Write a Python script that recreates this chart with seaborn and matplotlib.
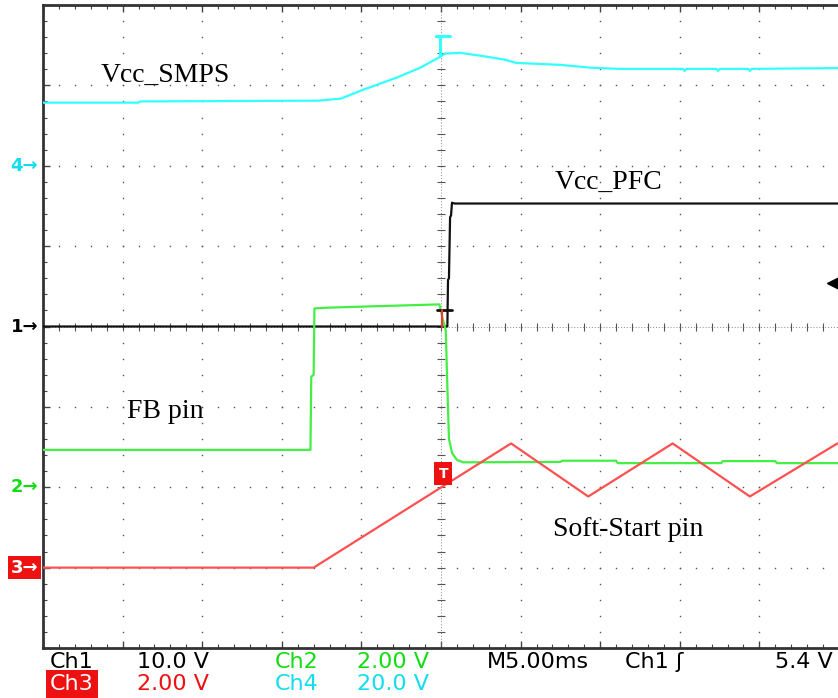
import numpy as np
import pandas as pd
import matplotlib
matplotlib.use("Agg")
import matplotlib.pyplot as plt
import seaborn as sns

# time axis in ms (5 ms/div, trigger at 0), values in volts
ch1_t = [-25, 0.40, 0.44, 0.50, 0.57, 0.63, 0.69, 0.85, 25]
ch1_v = [0, 0, 5.8, 6.0, 13.6, 13.8, 15.4, 15.3, 15.3]

ch2_t = [-25, -8.2, -8.15, -8.0, -7.95, -7.0, -4.5, -0.1, 0.1, 0.3, 0.4, 0.5,
         0.7, 1.0, 1.4, 7.5, 7.6, 11.0, 11.1, 17.6, 17.7, 21.0, 21.1, 25]
ch2_v = [0.93, 0.93, 2.75, 2.8, 4.45, 4.47, 4.5, 4.55, 4.2, 3.9, 2.5, 1.2,
         0.85, 0.68, 0.62, 0.63, 0.66, 0.66, 0.6, 0.6, 0.65, 0.65, 0.6, 0.6]

ch3_t = [-25, -8.0, 4.4, 9.25, 14.55, 19.4, 24.9]
ch3_v = [0, 0, 3.09, 1.77, 3.09, 1.77, 3.09]

ch4_t = [-25, -19.0, -18.9, -7.7, -6.3, -4.9, -2.8, -1.3, -0.06, 0.25, 1.2, 2.45,
         4.0, 4.7, 7.5, 9.4, 11.2, 15.2, 15.3, 15.4, 17.3, 17.4, 17.5, 19.3,
         19.4, 19.5, 25]
ch4_v = [15.7, 15.7, 16.0, 16.2, 16.7, 18.9, 21.9, 24.4, 27.1, 27.9, 28.1, 27.4,
         26.4, 25.6, 25.1, 24.4, 24.1, 24.1, 23.6, 24.1, 24.1, 23.6, 24.1, 24.1,
         23.6, 24.1, 24.3]
ch4_spike_t = [-0.06, -0.03, -0.3, 0.6, -0.03, 0.0]
ch4_spike_v = [27.1, 32.1, 32.1, 32.1, 32.1, 27.9]

channels = ["Ch1", "Ch2", "Ch3", "Ch4"]
volts_div = [10.0, 2.0, 2.0, 20.0]
ground_div = [0, -2, -3, 2]
trace_colors = ["#111111", "#44EE44", "#FF5050", "#33FFFF"]
text_colors = ["#000000", "#11DD11", "#EE1111", "#11DDEE"]
trig_level = 5.4
time_div = 5.0

scale = dict(zip(channels, volts_div))
offset = dict(zip(channels, ground_div))


def to_div(ch, v):
    return np.asarray(v) / scale[ch] + offset[ch]


frames = []
for ch, t, v in [("Ch1", ch1_t, ch1_v), ("Ch2", ch2_t, ch2_v),
                 ("Ch3", ch3_t, ch3_v), ("Ch4", ch4_t, ch4_v)]:
    frames.append(pd.DataFrame({"t": t, "div": to_div(ch, v), "channel": ch}))
traces = pd.concat(frames, ignore_index=True)

sns.set_style("white")
fig = plt.figure(figsize=(8.38, 6.98), dpi=100)
W, H = 838, 698
ax = fig.add_axes([43 / W, 50 / H, 796 / W, 643 / H])

# graticule: dotted division lines, ticked centre lines
minor_y = np.round(np.arange(-4, 4.01, 0.2), 2)
minor_x = np.arange(-25, 25.01, 1.0)
for gx in np.arange(-20, 21, 5):
    if gx != 0:
        ax.plot(np.full_like(minor_y, gx), minor_y, ls="none", marker="s",
                ms=1.0, mew=0, color="#555555", zorder=1)
for gy in range(-3, 4):
    if gy != 0:
        ax.plot(minor_x, np.full_like(minor_x, gy), ls="none", marker="s",
                ms=1.0, mew=0, color="#555555", zorder=1)
ax.axvline(0, color="#888888", lw=0.7, ls=(0, (1, 2)), zorder=1)
ax.axhline(0, color="#888888", lw=0.7, ls=(0, (1, 2)), zorder=1)
ax.plot(np.zeros_like(minor_y), minor_y, ls="none", marker="_", ms=6,
        mew=0.8, color="#555555", zorder=1)
ax.plot(minor_x, np.zeros_like(minor_x), ls="none", marker="|", ms=6,
        mew=0.8, color="#555555", zorder=1)

sns.lineplot(data=traces, x="t", y="div", hue="channel", hue_order=channels,
             palette=dict(zip(channels, trace_colors)), estimator=None,
             sort=False, legend=False, lw=1.6, ax=ax, zorder=3)
ax.plot(ch4_spike_t, to_div("Ch4", ch4_spike_v), color=trace_colors[3], lw=1.8, zorder=3)

# small expansion marker at centre and trigger level arrow
ax.plot([-0.25, 0.7], [0.21, 0.21], color="#111111", lw=2, zorder=4)
ax.plot([0.05, 0.05], [0.0, 0.2], color="#FF3030", lw=1.5, zorder=4)
ax.plot([24.6], [trig_level / scale["Ch1"]], marker="<", ms=9, color="black",
        clip_on=False, zorder=4)
ax.text(0.15, -1.83, "T", color="white", fontsize=10, fontweight="bold",
        ha="center", va="center", zorder=5,
        bbox=dict(boxstyle="square,pad=0.3", fc="#EE1111", ec="none"))

ax.set_xlim(-25, 25)
ax.set_ylim(-4, 4)
ax.set_xticks(np.arange(-25, 26, 5))
ax.set_xticks(minor_x, minor=True)
ax.set_yticks(np.arange(-4, 5, 1))
ax.set_yticks(minor_y, minor=True)
ax.tick_params(which="both", direction="in", top=True, bottom=True, left=True,
               right=False, labelbottom=False, labelleft=False, color="#444444")
ax.tick_params(which="major", length=5, width=1)
ax.tick_params(which="minor", length=3, width=0.8)
ax.set_xlabel("")
ax.set_ylabel("")
for side in ["left", "top", "bottom"]:
    ax.spines[side].set_color("#333333")
    ax.spines[side].set_linewidth(2)
ax.spines["right"].set_visible(False)

# ground markers on the left
yt = ax.get_yaxis_transform()
for ch, col in zip(channels, text_colors):
    label = ch[-1] + "\u2192"
    if ch == "Ch3":
        ax.text(-0.006, offset[ch], label, transform=yt, ha="right", va="center",
                color="white", fontsize=13, fontweight="bold", clip_on=False,
                bbox=dict(boxstyle="square,pad=0.15", fc="#EE1111", ec="none"))
    else:
        ax.text(-0.006, offset[ch], label, transform=yt, ha="right", va="center",
                color=col, fontsize=13, fontweight="bold", clip_on=False)

# trace names
serif = dict(family="Liberation Serif", fontsize=20, color="black", va="center")
ax.text(-21.4, 3.12, "Vcc_SMPS", **serif)
ax.text(7.16, 1.79, "Vcc_PFC", **serif)
ax.text(-19.7, -1.06, "FB pin", **serif)
ax.text(7.04, -2.52, "Soft-Start pin", **serif)


def px(x, y):
    return x / W, 1 - y / H


st = dict(family="DejaVu Sans", fontsize=16, va="center", ha="left")
fig.text(*px(50, 662), "Ch1", color="black", **st)
fig.text(*px(137, 662), f"{volts_div[0]:.1f} V", color="black", **st)
fig.text(*px(275, 662), "Ch2", color=text_colors[1], **st)
fig.text(*px(357, 662), f"{volts_div[1]:.2f} V", color=text_colors[1], **st)
fig.text(*px(487, 662), f"M{time_div:.2f}ms", color="black", **st)
fig.text(*px(625, 662), "Ch1 \u0283", color="black", **st)
fig.text(*px(833, 662), f"{trig_level:.1f} V", color="black",
         **{**st, "ha": "right"})
fig.text(*px(50, 684), "Ch3", color="white",
         bbox=dict(boxstyle="square,pad=0.18", fc="#EE1111", ec="none"), **st)
fig.text(*px(137, 684), f"{volts_div[2]:.2f} V", color=text_colors[2], **st)
fig.text(*px(275, 684), "Ch4", color=text_colors[3], **st)
fig.text(*px(357, 684), f"{volts_div[3]:.1f} V", color=text_colors[3], **st)

fig.savefig("out.png", dpi=100, facecolor="white")
